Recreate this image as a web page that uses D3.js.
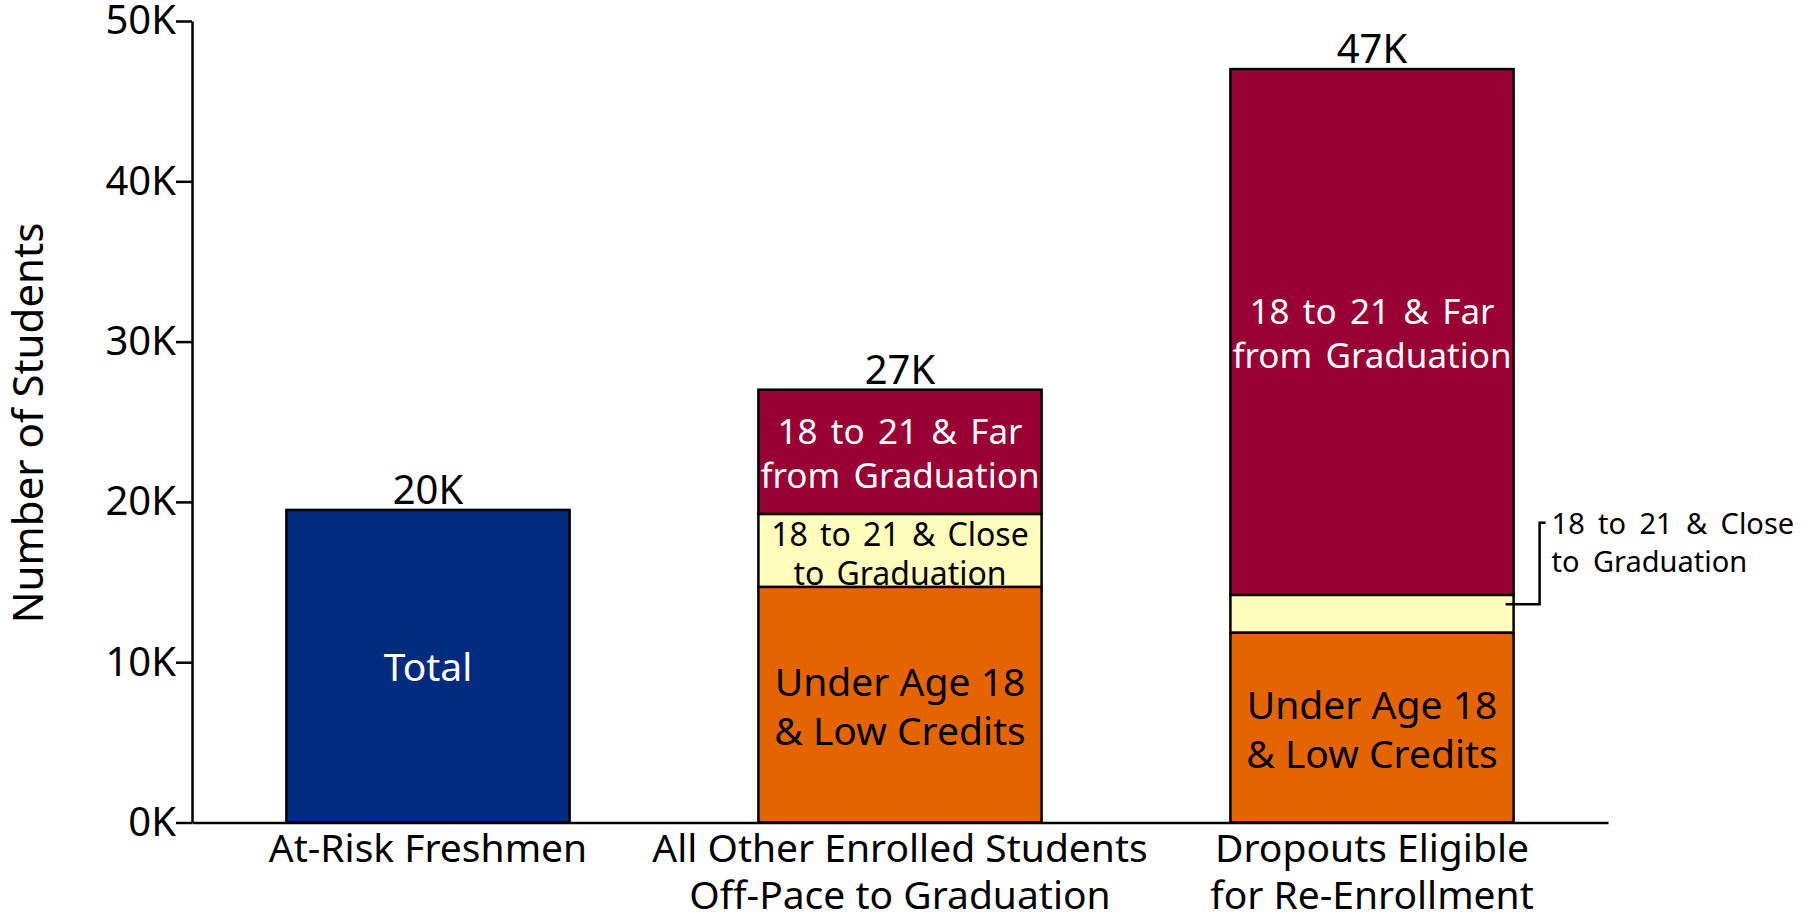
<!DOCTYPE html>
<html lang="en">
<head>
	<meta charset="UTF-8">
	<title>Students Off-Pace</title>
	<style>
		body { margin: 0; background: #fff; }
		svg text { font-family: "Noto Sans", "Open Sans", sans-serif; }
		.axis path, .axis line { stroke: #000; stroke-width: 2.5px; }
		.axis text { fill: #000; font-size: 40px; }
		.axis--x text { font-size: 39px; }
		.seg { stroke: #000; stroke-width: 2.5px; }
	</style>
	<script src="https://cdn.jsdelivr.net/npm/d3@7"></script>
</head>
<body>
<script>
	// categories (one entry per line of the axis label)
	var categories = [
		["At-Risk Freshmen"],
		["All Other Enrolled Students", "Off-Pace to Graduation"],
		["Dropouts Eligible", "for Re-Enrollment"]
	];
	// series, stacked bottom to top
	var seriesKeys = ["total", "under18", "close", "far"];
	var seriesLabels = [
		["Total"],
		["Under Age 18", "& Low Credits"],
		["18 to 21 & Close", "to Graduation"],
		["18 to 21 & Far", "from Graduation"]
	];
	var totalValues = [19500, 0, 0];
	var under18Values = [0, 14700, 11850];
	var closeValues = [0, 4550, 2350];
	var farValues = [0, 7750, 32800];
	var barTotalLabels = ["20K", "27K", "47K"];
	var yTickValues = [0, 10000, 20000, 30000, 40000, 50000];
	var yTitle = "Number of Students";
	// the small segment that gets a callout instead of an inner label
	var callout = {bar: 2, series: "close"};

	var colors = {total: "#002B7F", under18: "#E46500", close: "#FFFCBC", far: "#990033"};
	var labelStyle = {
		total: {size: 39, fill: "#fff", lh: 48, shift: 0},
		under18: {size: 39, fill: "#000", lh: 49, shift: 1},
		close: {size: 32, fill: "#000", lh: 39, shift: 3},
		far: {size: 35, fill: "#fff", lh: 44, shift: 1}
	};

	var table = categories.map(function (c, i) {
		return {i: i, total: totalValues[i], under18: under18Values[i], close: closeValues[i], far: farValues[i]};
	});

	var margin = {top: 21, right: 199, bottom: 91.5, left: 192},
		width = 1807 - margin.left - margin.right,
		height = 914 - margin.top - margin.bottom;

	var x = d3.scaleBand()
		.domain(d3.range(categories.length))
		.range([0, width])
		.paddingInner(0.4)
		.paddingOuter(0.2);

	var y = d3.scaleLinear()
		.domain([0, 50000])
		.range([height, 0]);

	var svg = d3.select("body").append("svg")
		.attr("width", 1807)
		.attr("height", 914);

	var g = svg.append("g")
		.attr("transform", "translate(" + margin.left + "," + margin.top + ")");

	var stacked = d3.stack().keys(seriesKeys)(table);

	var defs = svg.append("defs");

	stacked.forEach(function (layer, si) {
		var key = layer.key;
		layer.forEach(function (d, bi) {
			if (d[1] - d[0] <= 0) return;
			var x0 = x(bi), y0 = y(d[1]), h = y(d[0]) - y(d[1]);
			g.append("rect")
				.attr("class", "seg")
				.attr("x", x0)
				.attr("y", y0)
				.attr("width", x.bandwidth())
				.attr("height", h)
				.attr("fill", colors[key]);

			if (callout.bar == bi && callout.series == key) return;

			// labels are cut at the edge of their own segment
			var id = "clip-" + key + "-" + bi;
			defs.append("clipPath").attr("id", id)
				.append("rect")
				.attr("x", x0).attr("y", y0)
				.attr("width", x.bandwidth()).attr("height", h - 1.5);

			var st = labelStyle[key];
			var lines = seriesLabels[si];
			var cy = y0 + h / 2;
			var first = cy - (lines.length - 1) * st.lh / 2 + st.size * 0.38 + st.shift;
			var t = g.append("text")
				.attr("clip-path", "url(#" + id + ")")
				.attr("text-anchor", "middle")
				.attr("fill", st.fill)
				.style("font-size", st.size + "px")
				.style("word-spacing", key == "total" || key == "under18" ? "0px" : "0.12em");
			lines.forEach(function (l, li) {
				t.append("tspan")
					.attr("x", x0 + x.bandwidth() / 2)
					.attr("y", first + li * st.lh)
					.text(l);
			});
		});
	});

	// totals on top of each bar
	g.selectAll(".total-label")
		.data(table)
		.enter().append("text")
		.attr("class", "total-label")
		.attr("x", function (d) { return x(d.i) + x.bandwidth() / 2; })
		.attr("y", function (d) { return y(d.total + d.under18 + d.close + d.far) - 6; })
		.attr("text-anchor", "middle")
		.style("font-size", "40px")
		.text(function (d, i) { return barTotalLabels[i]; });

	// callout for the thin segment
	var cd = stacked[seriesKeys.indexOf(callout.series)][callout.bar];
	var barRight = x(callout.bar) + x.bandwidth();
	var ly = y(cd[0] + (cd[1] - cd[0]) * 0.75);
	var topY = y(cd[1]) - 72;
	g.append("path")
		.attr("d", "M" + (barRight - 8) + "," + ly + "H" + (barRight + 26) + "V" + topY + "H" + (barRight + 32))
		.attr("fill", "none")
		.attr("stroke", "#000")
		.attr("stroke-width", 2.5);
	var ct = g.append("text")
		.style("font-size", "29px")
		.style("word-spacing", "0.2em");
	seriesLabels[seriesKeys.indexOf(callout.series)].forEach(function (l, li) {
		ct.append("tspan")
			.attr("x", barRight + 38)
			.attr("y", topY + 11 + li * 38)
			.text(l);
	});

	// axes
	g.append("g")
		.attr("class", "axis axis--y")
		.call(d3.axisLeft(y)
			.tickValues(yTickValues)
			.tickSize(16)
			.tickSizeOuter(0)
			.tickPadding(0)
			.tickFormat(function (d) { return (d / 1000) + "K"; }));

	var xAxis = g.append("g")
		.attr("class", "axis axis--x")
		.attr("transform", "translate(0," + height + ")")
		.call(d3.axisBottom(x).tickSize(0).tickSizeOuter(0));

	xAxis.selectAll(".tick text").each(function (d) {
		var t = d3.select(this).text(null).attr("y", null).attr("dy", null);
		categories[d].forEach(function (l, li) {
			t.append("tspan")
				.attr("x", 0)
				.attr("y", 39 + li * 47.5)
				.text(l);
		});
	});

	svg.append("text")
		.attr("transform", "translate(43," + 423 + ") rotate(-90)")
		.attr("text-anchor", "middle")
		.style("font-size", "42px")
		.text(yTitle);
</script>
</body>
</html>
